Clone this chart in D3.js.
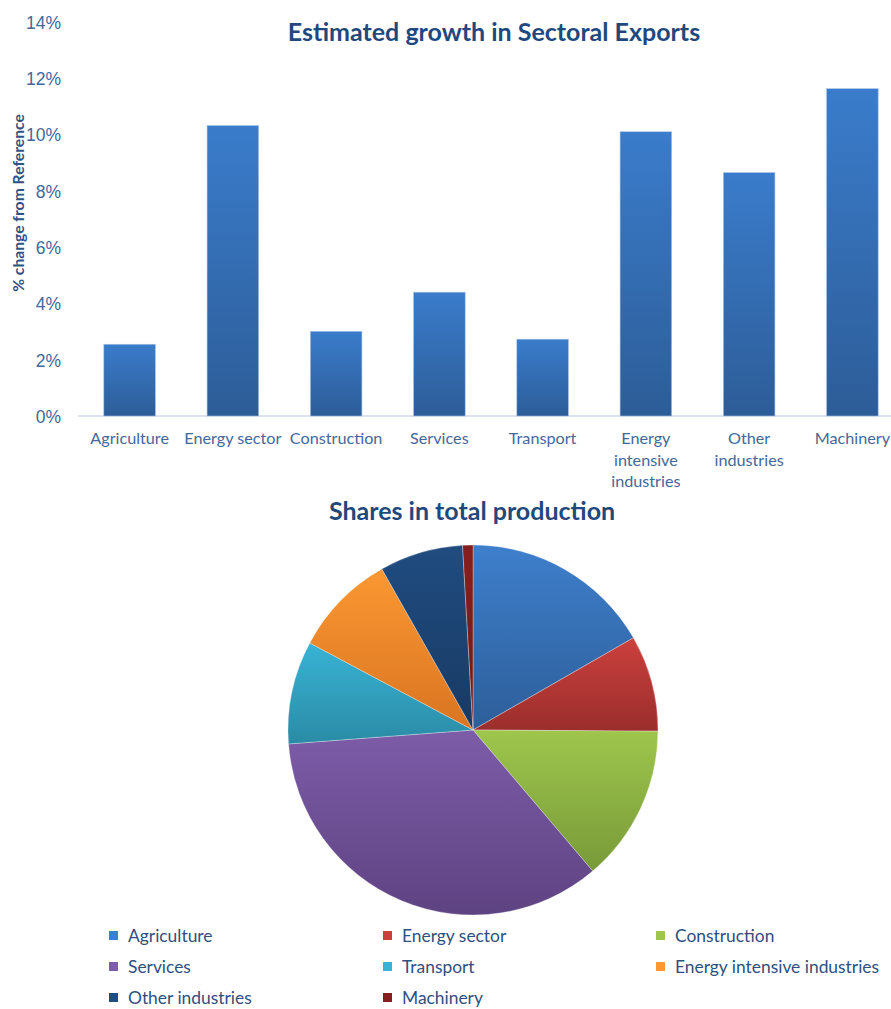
<!DOCTYPE html>
<meta charset="utf-8">
<style>
body { margin: 0; background: #fff; }
svg { font-family: Lato, "Open Sans", sans-serif; }
.title { fill: #1F497D; font-weight: bold; font-size: 25px; }
.tick text { fill: #43689C; font-size: 16.2px; }
.ytick text { fill: #43689C; font-size: 17.5px; }
.legend text { fill: #2F4F7F; font-size: 17.4px; }
</style>
<svg width="891" height="1009"></svg>
<script src="https://d3js.org/d3.v7.min.js"></script>
<script>

var sectors = ["Agriculture", "Energy sector", "Construction", "Services", "Transport",
               "Energy intensive industries", "Other industries", "Machinery"];
var exportGrowth = [2.55, 10.32, 3.01, 4.40, 2.73, 10.10, 8.65, 11.63];
var productionShares = [16.7, 8.4, 13.7, 35.0, 9.0, 9.0, 7.3, 0.9];
var yTicks = [0, 2, 4, 6, 8, 10, 12, 14];
var pieColors = [["#3E7FCC", "#2D5E99"], ["#CB403D", "#9A2E2C"], ["#9EC64C", "#789A39"],
                 ["#7D5CA8", "#5E4382"], ["#39B3D5", "#2A8BA5"], ["#FB9832", "#D97421"],
                 ["#204C80", "#183A63"], ["#861F1F", "#6E1A1A"]];

var svg = d3.select("svg");
var defs = svg.append("defs");

// ---- bar chart ----
var x = d3.scaleBand().domain(sectors).range([78, 904]).paddingInner(0.5).paddingOuter(0.25);
var y = d3.scaleLinear().domain([0, 14]).range([416, 22]);

var bg = defs.append("linearGradient").attr("id", "barGrad")
    .attr("x1", 0).attr("y1", 0).attr("x2", 0).attr("y2", 1);
bg.append("stop").attr("offset", "0%").attr("stop-color", "#3A7CCB");
bg.append("stop").attr("offset", "100%").attr("stop-color", "#2D5D98");

svg.append("text").attr("class", "title")
    .attr("x", 494).attr("y", 41).attr("text-anchor", "middle")
    .text("Estimated growth in Sectoral Exports");

svg.append("text")
    .attr("transform", "translate(24,203) rotate(-90)")
    .attr("text-anchor", "middle")
    .attr("fill", "#2F5287").attr("font-weight", "bold").attr("font-size", "15.7px")
    .text("% change from Reference");

var yAxis = svg.append("g").attr("class", "ytick").attr("transform", "translate(61,0)")
    .call(d3.axisLeft(y).tickValues(yTicks).tickSize(0).tickPadding(0)
      .tickFormat(function(d) { return d + "%"; }));
yAxis.select(".domain").remove();
yAxis.selectAll("text").attr("dy", "0.36em");

svg.append("line").attr("x1", 78).attr("x2", 891).attr("y1", y(0)).attr("y2", y(0))
    .attr("stroke", "#DCE3EE").attr("stroke-width", 2);

svg.append("g").selectAll("rect")
    .data(exportGrowth)
  .enter().append("rect")
    .attr("x", function(d, i) { return x(sectors[i]); })
    .attr("width", x.bandwidth())
    .attr("y", function(d) { return y(d); })
    .attr("height", function(d) { return y(0) - y(d); })
    .attr("fill", "url(#barGrad)")
    .attr("stroke", "#A9C4E6").attr("stroke-width", 0.6);

var xLabels = [["Agriculture"], ["Energy sector"], ["Construction"], ["Services"], ["Transport"],
               ["Energy", "intensive", "industries"], ["Other", "industries"], ["Machinery"]];
var xa = svg.append("g").attr("class", "tick");
xLabels.forEach(function(lines, i) {
  var t = xa.append("text").attr("text-anchor", "middle")
      .attr("x", x(sectors[i]) + x.bandwidth() / 2).attr("y", 444);
  lines.forEach(function(l, j) {
    t.append("tspan").attr("x", x(sectors[i]) + x.bandwidth() / 2)
      .attr("dy", j ? 21.5 : 0).text(l);
  });
});

// ---- pie chart ----
svg.append("text").attr("class", "title")
    .attr("x", 472).attr("y", 520).attr("text-anchor", "middle")
    .text("Shares in total production");

pieColors.forEach(function(c, i) {
  var g = defs.append("linearGradient").attr("id", "pg" + i)
      .attr("x1", 0).attr("y1", 0).attr("x2", 0).attr("y2", 1);
  g.append("stop").attr("offset", "0%").attr("stop-color", c[0]);
  g.append("stop").attr("offset", "100%").attr("stop-color", c[1]);
});

var pie = d3.pie().sort(null);
var arc = d3.arc().innerRadius(0).outerRadius(185);

svg.append("g").attr("transform", "translate(473,730)")
  .selectAll("path")
    .data(pie(productionShares))
  .enter().append("path")
    .attr("d", arc)
    .attr("fill", function(d, i) { return "url(#pg" + i + ")"; })
    .attr("stroke", "#fff").attr("stroke-width", 0.3);

// ---- legend ----
var legend = svg.append("g").attr("class", "legend");
sectors.forEach(function(s, i) {
  var cx = [109, 383, 656][i % 3], cy = 936 + Math.floor(i / 3) * 31;
  legend.append("rect").attr("x", cx).attr("y", cy - 5).attr("width", 9).attr("height", 9)
      .attr("fill", pieColors[i][0]);
  legend.append("text").attr("x", cx + 19).attr("y", cy).attr("dy", "0.35em").text(s);
});

</script>
